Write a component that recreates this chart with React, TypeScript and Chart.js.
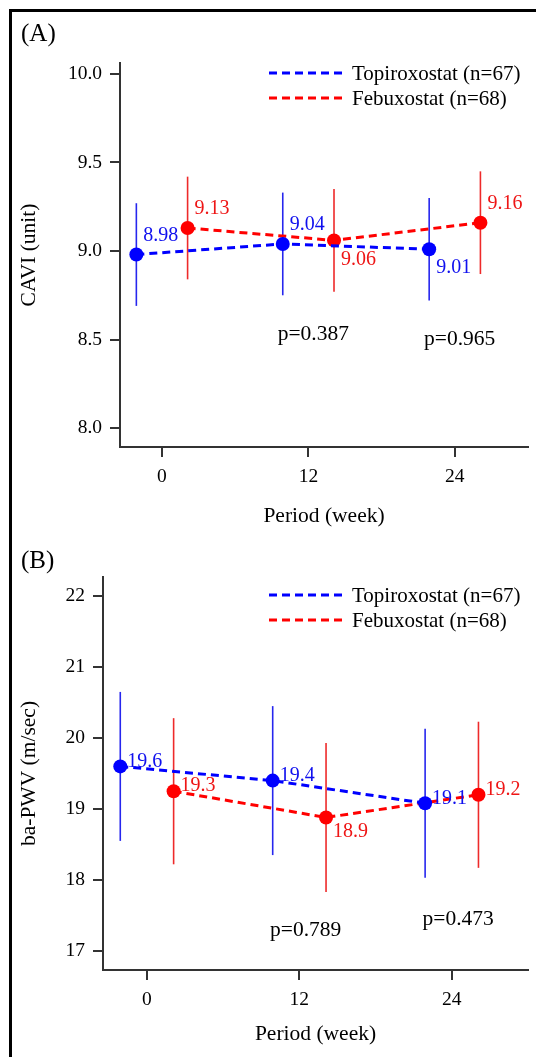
import React, { useEffect, useRef } from 'react';
import { Chart, registerables } from 'chart.js';

Chart.register(...registerables);

// ---------- data ----------
const weeks = [0, 12, 24];
const seriesNames = ['Topiroxostat (n=67)', 'Febuxostat (n=68)'];

// Panel A: CAVI
const caviTopiroxostat = [8.98, 9.04, 9.01];
const caviFebuxostat = [9.13, 9.06, 9.16];
const caviTopiroxostatSD = [0.29, 0.29, 0.29];
const caviFebuxostatSD = [0.29, 0.29, 0.29];
const caviTopiroxostatLabels = ['8.98', '9.04', '9.01'];
const caviFebuxostatLabels = ['9.13', '9.06', '9.16'];
const caviTicks = [8.0, 8.5, 9.0, 9.5, 10.0];
const caviPTexts = ['p=0.387', 'p=0.965'];
const caviPWeeks = [12.4, 24.4];
const caviPLevels = [8.53, 8.5];

// Panel B: ba-PWV
const pwvTopiroxostat = [19.6, 19.4, 19.08];
const pwvFebuxostat = [19.25, 18.88, 19.2];
const pwvTopiroxostatSD = [1.05, 1.05, 1.05];
const pwvFebuxostatSD = [1.03, 1.05, 1.03];
const pwvTopiroxostatLabels = ['19.6', '19.4', '19.1'];
const pwvFebuxostatLabels = ['19.3', '18.9', '19.2'];
const pwvTicks = [17, 18, 19, 20, 21, 22];
const pwvPTexts = ['p=0.789', 'p=0.473'];
const pwvPWeeks = [12.5, 24.5];
const pwvPLevels = [17.29, 17.45];

// ---------- styles ----------
const serif = "'Liberation Serif', 'Times New Roman', Times, serif";
const colors = ['#0000ff', '#ff0000'];
const barColors = ['#2626ee', '#ee2a2a'];
const textColors = ['#1010ee', '#ee1515'];
const dodges = [-2.1, 2.1];

type Placement = 'above' | 'below' | 'right' | 'lowright';
const offsets: Record<Placement, [number, number]> = {
  above: [7, -19],
  below: [7, 19],
  right: [7, -5],
  lowright: [7, 14],
};

type Series = {
  name: string;
  values: number[];
  sd: number[];
  labels: string[];
  placement: Placement[];
};

type PanelCfg = {
  letter: string;
  yTitle: string;
  yMin: number;
  yMax: number;
  xMin: number;
  xMax: number;
  yTicks: number[];
  tickFmt: (v: number) => string;
  series: Series[];
  pTexts: string[];
  pWeeks: number[];
  pLevels: number[];
  height: number;
  padTop: number;
  yWidth: number;
  xHeight: number;
  xTitlePadBottom: number;
  yTitlePadTop: number;
  legendY: number;
  letterY: number;
};

const panelA: PanelCfg = {
  letter: '(A)',
  yTitle: 'CAVI (unit)',
  yMin: 7.893,
  yMax: 10.062,
  xMin: -3.44,
  xMax: 30,
  yTicks: caviTicks,
  tickFmt: (v) => v.toFixed(1),
  series: [
    { name: seriesNames[0], values: caviTopiroxostat, sd: caviTopiroxostatSD, labels: caviTopiroxostatLabels, placement: ['above', 'above', 'below'] },
    { name: seriesNames[1], values: caviFebuxostat, sd: caviFebuxostatSD, labels: caviFebuxostatLabels, placement: ['above', 'below', 'above'] },
  ],
  pTexts: caviPTexts,
  pWeeks: caviPWeeks,
  pLevels: caviPLevels,
  height: 530,
  padTop: 63,
  yWidth: 120,
  xHeight: 83,
  xTitlePadBottom: 1,
  yTitlePadTop: 16,
  legendY: 73,
  letterY: 34,
};

const panelB: PanelCfg = {
  letter: '(B)',
  yTitle: 'ba-PWV (m/sec)',
  yMin: 16.73,
  yMax: 22.27,
  xMin: -3.46,
  xMax: 30,
  yTicks: pwvTicks,
  tickFmt: (v) => String(v),
  series: [
    { name: seriesNames[0], values: pwvTopiroxostat, sd: pwvTopiroxostatSD, labels: pwvTopiroxostatLabels, placement: ['right', 'right', 'right'] },
    { name: seriesNames[1], values: pwvFebuxostat, sd: pwvFebuxostatSD, labels: pwvFebuxostatLabels, placement: ['right', 'lowright', 'right'] },
  ],
  pTexts: pwvPTexts,
  pWeeks: pwvPWeeks,
  pLevels: pwvPLevels,
  height: 527,
  padTop: 47,
  yWidth: 103,
  xHeight: 87,
  xTitlePadBottom: 10,
  yTitlePadTop: 16,
  legendY: 65,
  letterY: 31,
};

function Panel({ cfg, top }: { cfg: PanelCfg; top: number }) {
  const ref = useRef<HTMLCanvasElement>(null);

  useEffect(() => {
    const canvas = ref.current;
    if (!canvas) return;

    const decor = {
      id: 'decor',
      beforeDatasetsDraw(chart: any) {
        const ctx = chart.ctx;
        const xs = chart.scales.x;
        const ys = chart.scales.y;
        ctx.save();
        cfg.series.forEach((s, i) => {
          ctx.strokeStyle = barColors[i];
          ctx.lineWidth = 1.6;
          s.values.forEach((v, j) => {
            const x = xs.getPixelForValue(weeks[j] + dodges[i]);
            ctx.beginPath();
            ctx.moveTo(x, ys.getPixelForValue(v + s.sd[j]));
            ctx.lineTo(x, ys.getPixelForValue(v - s.sd[j]));
            ctx.stroke();
          });
        });
        ctx.restore();
      },
      afterDatasetsDraw(chart: any) {
        const ctx = chart.ctx;
        const xs = chart.scales.x;
        const ys = chart.scales.y;
        ctx.save();
        // data labels
        ctx.font = `20px ${serif}`;
        ctx.textAlign = 'left';
        ctx.textBaseline = 'middle';
        cfg.series.forEach((s, i) => {
          ctx.fillStyle = textColors[i];
          s.values.forEach((v, j) => {
            const [dx, dy] = offsets[s.placement[j]];
            const x = xs.getPixelForValue(weeks[j] + dodges[i]);
            const y = ys.getPixelForValue(v);
            ctx.fillText(s.labels[j], x + dx, y + dy);
          });
        });
        // p-values
        ctx.font = `21.5px ${serif}`;
        ctx.fillStyle = '#000';
        ctx.textAlign = 'center';
        cfg.pTexts.forEach((t, k) => {
          ctx.fillText(t, xs.getPixelForValue(cfg.pWeeks[k]), ys.getPixelForValue(cfg.pLevels[k]));
        });
        // legend
        ctx.font = `21px ${serif}`;
        cfg.series.forEach((s, i) => {
          const y = cfg.legendY + i * 25;
          ctx.strokeStyle = colors[i];
          ctx.lineWidth = 3;
          ctx.setLineDash([8, 5]);
          ctx.beginPath();
          ctx.moveTo(269, y);
          ctx.lineTo(342, y);
          ctx.stroke();
          ctx.setLineDash([]);
          ctx.fillStyle = '#000';
          ctx.textAlign = 'left';
          ctx.fillText(s.name, 352, y + 1);
        });
        // panel letter
        ctx.font = `25px ${serif}`;
        ctx.fillStyle = '#000';
        ctx.textAlign = 'left';
        ctx.fillText(cfg.letter, 21, cfg.letterY);
        ctx.restore();
      },
    };

    const chart = new Chart(canvas, {
      type: 'line',
      data: {
        datasets: cfg.series.map((s, i) => ({
          label: s.name,
          data: s.values.map((v, j) => ({ x: weeks[j] + dodges[i], y: v })),
          borderColor: colors[i],
          backgroundColor: colors[i],
          borderWidth: 3,
          borderDash: [8, 5],
          pointRadius: 7,
          pointBackgroundColor: colors[i],
          pointBorderColor: colors[i],
          pointBorderWidth: 0,
          tension: 0,
          fill: false,
        })),
      },
      options: {
        responsive: false,
        animation: false,
        devicePixelRatio: 1,
        layout: { padding: { top: cfg.padTop, right: 8, bottom: 0, left: 0 } },
        plugins: { legend: { display: false }, tooltip: { enabled: false } },
        scales: {
          x: {
            type: 'linear',
            min: cfg.xMin,
            max: cfg.xMax,
            afterBuildTicks: (s: any) => {
              s.ticks = weeks.map((v) => ({ value: v }));
            },
            afterFit: (s: any) => {
              s.height = cfg.xHeight;
            },
            grid: { display: true, drawOnChartArea: false, drawTicks: true, tickLength: 10, color: '#333', lineWidth: 2 },
            border: { display: true, color: '#333', width: 2 },
            ticks: { color: '#000', font: { family: serif, size: 19.5 }, padding: 8, callback: (v: any) => String(v) },
            title: {
              display: true,
              text: 'Period (week)',
              color: '#000',
              font: { family: serif, size: 21.5 },
              padding: { top: 0, bottom: cfg.xTitlePadBottom },
            },
          },
          y: {
            type: 'linear',
            min: cfg.yMin,
            max: cfg.yMax,
            afterBuildTicks: (s: any) => {
              s.ticks = cfg.yTicks.map((v) => ({ value: v }));
            },
            afterFit: (s: any) => {
              s.width = cfg.yWidth;
            },
            grid: { display: true, drawOnChartArea: false, drawTicks: true, tickLength: 10, color: '#333', lineWidth: 2 },
            border: { display: true, color: '#333', width: 2 },
            ticks: { color: '#000', font: { family: serif, size: 19.5 }, padding: 8, callback: (v: any) => cfg.tickFmt(Number(v)) },
            title: {
              display: true,
              text: cfg.yTitle,
              color: '#000',
              font: { family: serif, size: 21.5 },
              padding: { top: cfg.yTitlePadTop, bottom: 0 },
            },
          },
        },
      } as any,
      plugins: [decor],
    });
    return () => chart.destroy();
  }, [cfg]);

  return (
    <canvas
      ref={ref}
      width={536}
      height={cfg.height}
      style={{ position: 'absolute', left: 0, top, width: 536, height: cfg.height, display: 'block' }}
    />
  );
}

export default function App() {
  return (
    <div style={{ position: 'absolute', left: 0, top: 0, width: 536, height: 1057, overflow: 'hidden', background: '#fff' }}>
      <Panel cfg={panelA} top={0} />
      <Panel cfg={panelB} top={530} />
      <div style={{ position: 'absolute', left: 9, top: 9, width: 527, height: 3, background: '#000' }} />
      <div style={{ position: 'absolute', left: 9, top: 9, width: 3, height: 1048, background: '#000' }} />
    </div>
  );
}
